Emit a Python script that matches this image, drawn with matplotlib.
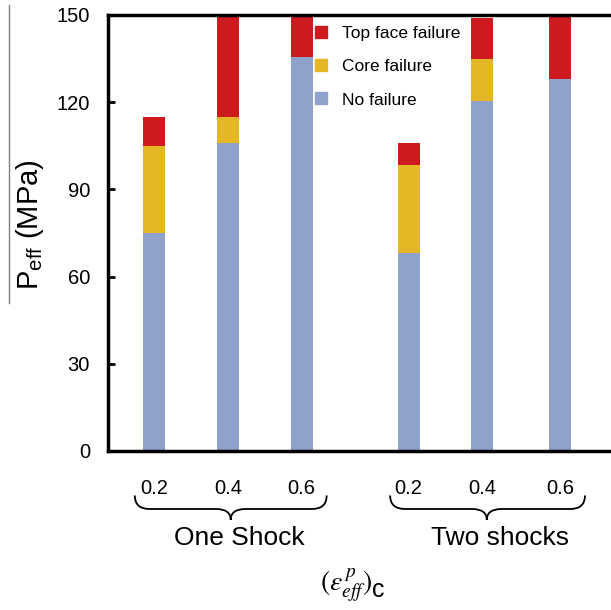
import matplotlib

matplotlib.use("Agg")
import matplotlib.pyplot as plt
import matplotlib.transforms as mtransforms
from matplotlib.lines import Line2D
from matplotlib.path import Path
from matplotlib.patches import PathPatch

plt.rcParams["font.family"] = ["Liberation Sans", "DejaVu Sans"]
plt.rcParams["mathtext.fontset"] = "custom"
plt.rcParams["mathtext.rm"] = "Liberation Sans"
plt.rcParams["mathtext.sf"] = "Liberation Sans"

# data
strain = ["0.2", "0.4", "0.6", "0.2", "0.4", "0.6"]
groups = ["One Shock", "Two shocks"]
no_failure = [75, 106, 135.5, 68, 120.3, 128]
core_failure = [30, 9, 0, 30.5, 14.7, 0]
top_face = [10, 35, 14.5, 7.5, 14, 22]

xpos = [1, 2, 3, 4.45, 5.45, 6.5]
C_BLUE, C_YEL, C_RED = "#8fa2cc", "#e5b726", "#cc1a1f"

fig = plt.figure(figsize=(6.11, 6.10), dpi=100)
ax = fig.add_axes([108 / 611, 1 - 451 / 610, 520 / 611, 436 / 610])

bot2 = [a + b for a, b in zip(no_failure, core_failure)]
ax.bar(xpos, no_failure, width=0.3, color=C_BLUE)
ax.bar(xpos, core_failure, width=0.3, bottom=no_failure, color=C_YEL)
ax.bar(xpos, top_face, width=0.3, bottom=bot2, color=C_RED)

ax.set_ylim(0, 150)
ax.set_xlim(0.377, 0.377 + 520 / 73.8)
ax.set_yticks([0, 30, 60, 90, 120, 150])
ax.tick_params(axis="y", direction="in", length=5, width=2, labelsize=14.5, pad=13)
ax.set_xticks(xpos)
ax.set_xticklabels(strain)
ax.tick_params(axis="x", length=0, labelsize=14.5, pad=20)
for s in ("left", "top", "bottom"):
    ax.spines[s].set_linewidth(2.5)
ax.spines["right"].set_visible(False)

# curly braces under each group
tr = mtransforms.blended_transform_factory(ax.transData, ax.transAxes)


def brace(x0, x1, xc, y0=-0.102, y1=-0.133, y2=-0.158, r=0.2):
    verts = [(x0, y0), (x0, y1), (x0 + r, y1),
             (xc - r, y1), (xc, y1), (xc, y2),
             (xc, y1), (xc + r, y1),
             (x1 - r, y1), (x1, y1), (x1, y0)]
    codes = [Path.MOVETO, Path.CURVE3, Path.CURVE3,
             Path.LINETO, Path.CURVE3, Path.CURVE3,
             Path.CURVE3, Path.CURVE3,
             Path.LINETO, Path.CURVE3, Path.CURVE3]
    ax.add_patch(PathPatch(Path(verts, codes), fill=False, lw=1.3,
                           color="black", transform=tr, clip_on=False))


brace(0.74, 3.34, 2.04)
brace(4.2, 6.84, 5.51)
ax.text(2.16, -0.2, groups[0], transform=tr, ha="center", va="center", fontsize=19)
ax.text(5.69, -0.2, groups[1], transform=tr, ha="center", va="center", fontsize=19)
fig.text(372 / 611, 1 - 585 / 610, r"$(\varepsilon^{\,p}_{eff})$", math_fontfamily="stix",
         ha="right", va="center", fontsize=20)
fig.text(372 / 611, 1 - 590 / 610, "c", ha="left", va="center", fontsize=18)

fig.text(30 / 611, 1 - 225 / 610, r"$\mathrm{P}_{\mathrm{eff}}$ (MPa)", rotation=90,
         ha="center", va="center", fontsize=21)
fig.add_artist(Line2D([9 / 611, 9 / 611], [1 - 5 / 610, 1 - 303 / 610],
                      color="gray", lw=1))

handles = [Line2D([], [], marker="s", ls="none", color=c, markersize=8)
           for c in (C_RED, C_YEL, C_BLUE)]
ax.legend(handles, ["Top face failure", "Core failure", "No failure"],
          loc="upper left", bbox_to_anchor=(297 / 611, 1 - 10 / 610),
          bbox_transform=fig.transFigure, frameon=False,
          fontsize=12.5, labelspacing=1.05,
          handlelength=1.0, handletextpad=0.7, borderpad=0.4)

fig.savefig("out.png", dpi=100, facecolor="white")
